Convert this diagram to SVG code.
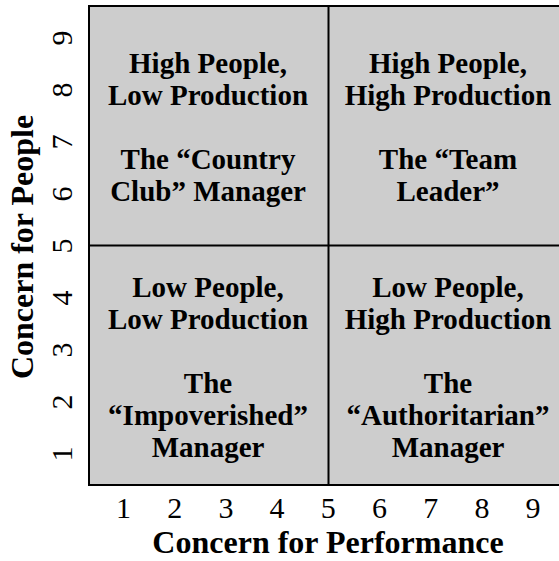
<svg xmlns="http://www.w3.org/2000/svg" width="559" height="561" viewBox="0 0 559 561">
<style>
.q{font-family:"Liberation Serif","Times New Roman",serif;font-weight:bold;font-size:29px;text-anchor:middle;fill:#000}
.n{font-family:"Liberation Serif","Times New Roman",serif;font-size:30px;text-anchor:middle;fill:#000}
.t{font-family:"Liberation Serif","Times New Roman",serif;font-weight:bold;font-size:32px;text-anchor:middle;fill:#000}
.ln{stroke:#000;stroke-width:2;fill:none}
</style>
<rect x="0" y="0" width="559" height="561" fill="#fff"/>
<rect x="89" y="6" width="480" height="479" fill="#cdcdcd" stroke="#000" stroke-width="2"/>
<g id="dividers">
<line class="ln" x1="328.5" y1="6" x2="328.5" y2="485"/>
<line class="ln" x1="89" y1="245.5" x2="569" y2="245.5"/>
</g>
<g id="q-country-club">
<text class="q" x="208" y="73">High People,</text>
<text class="q" x="208" y="105">Low Production</text>
<text class="q" x="208" y="169">The “Country</text>
<text class="q" x="208" y="201">Club” Manager</text>
</g>
<g id="q-team-leader">
<text class="q" x="448" y="73">High People,</text>
<text class="q" x="448" y="105">High Production</text>
<text class="q" x="448" y="169">The “Team</text>
<text class="q" x="448" y="201">Leader”</text>
</g>
<g id="q-impoverished">
<text class="q" x="208" y="297">Low People,</text>
<text class="q" x="208" y="329">Low Production</text>
<text class="q" x="208" y="393">The</text>
<text class="q" x="208" y="425">“Impoverished”</text>
<text class="q" x="208" y="457">Manager</text>
</g>
<g id="q-authoritarian">
<text class="q" x="448" y="297">Low People,</text>
<text class="q" x="448" y="329">High Production</text>
<text class="q" x="448" y="393">The</text>
<text class="q" x="448" y="425">“Authoritarian”</text>
<text class="q" x="448" y="457">Manager</text>
</g>
<g id="x-axis">
<text class="n" x="123.5" y="518">1</text>
<text class="n" x="174.7" y="518">2</text>
<text class="n" x="225.9" y="518">3</text>
<text class="n" x="277.1" y="518">4</text>
<text class="n" x="328.3" y="518">5</text>
<text class="n" x="379.5" y="518">6</text>
<text class="n" x="430.7" y="518">7</text>
<text class="n" x="481.9" y="518">8</text>
<text class="n" x="533.1" y="518">9</text>
<text class="t" x="328" y="553">Concern for Performance</text>
</g>
<g id="y-axis">
<text class="n" transform="translate(72,454) rotate(-90)">1</text>
<text class="n" transform="translate(72,402) rotate(-90)">2</text>
<text class="n" transform="translate(72,350) rotate(-90)">3</text>
<text class="n" transform="translate(72,298) rotate(-90)">4</text>
<text class="n" transform="translate(72,246) rotate(-90)">5</text>
<text class="n" transform="translate(72,194) rotate(-90)">6</text>
<text class="n" transform="translate(72,142) rotate(-90)">7</text>
<text class="n" transform="translate(72,90) rotate(-90)">8</text>
<text class="n" transform="translate(72,38) rotate(-90)">9</text>
<text class="t" transform="translate(33,247) rotate(-90)">Concern for People</text>
</g>
</svg>
